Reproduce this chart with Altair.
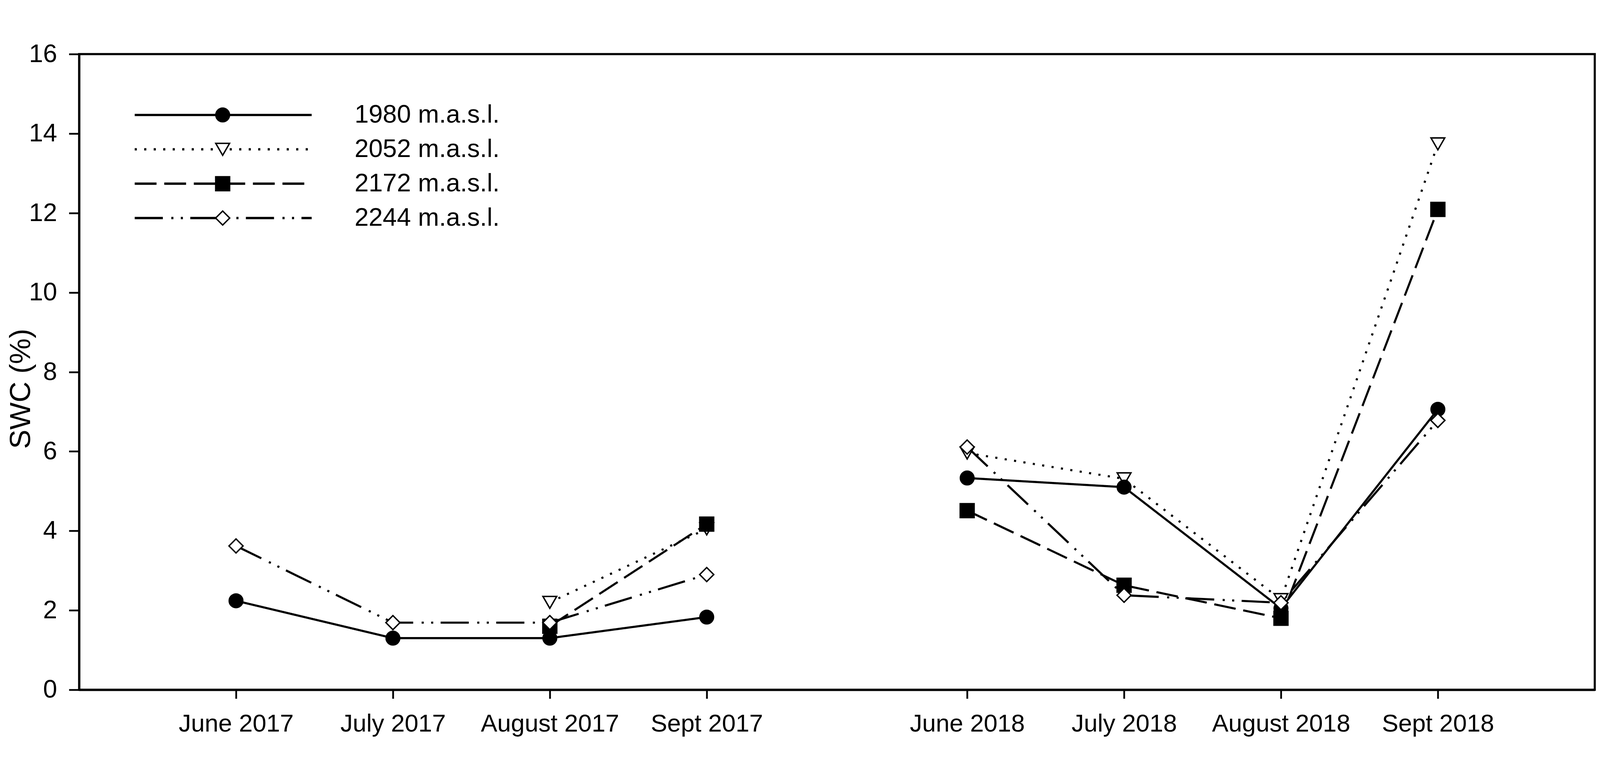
import altair as alt
import pandas as pd

# ---- data ----
months = ["June 2017", "July 2017", "August 2017", "Sept 2017",
          "June 2018", "July 2018", "August 2018", "Sept 2018"]
month_pos = [1, 2, 3, 4, 5.66, 6.66, 7.66, 8.66]
season = [2017, 2017, 2017, 2017, 2018, 2018, 2018, 2018]

series = ["1980 m.a.s.l.", "2052 m.a.s.l.", "2172 m.a.s.l.", "2244 m.a.s.l."]
swc_1980 = [2.24, 1.30, 1.30, 1.83, 5.33, 5.10, 2.05, 7.06]
swc_2052 = [None, None, 2.20, 4.05, 5.96, 5.31, 2.27, 13.74]
swc_2172 = [None, None, 1.60, 4.17, 4.51, 2.63, 1.80, 12.09]
swc_2244 = [3.62, 1.69, 1.69, 2.90, 6.11, 2.38, 2.19, 6.78]

values_by_series = {
    series[0]: swc_1980,
    series[1]: swc_2052,
    series[2]: swc_2172,
    series[3]: swc_2244,
}

# ---- styles ----
shapes = ["circle", "triangle-down", "square", "diamond"]
fills = ["black", "white", "black", "white"]
sizes = [1500, 1600, 1350, 2050]
dashes = [[1, 0], [6, 21], [62, 22], [80, 24, 6, 21, 6, 21]]
FONT = "Liberation Sans"

# draw order for markers (later = on top)
draw_order = [series[1], series[0], series[2], series[3]]

rows = []
for s in draw_order:
    for m, p, yr, v in zip(months, month_pos, season, values_by_series[s]):
        if v is not None:
            rows.append({"series": s, "month": m, "pos": p, "season": yr, "swc": v})
df = pd.DataFrame(rows)
legend_df = pd.DataFrame({"series": series})

x_enc = alt.X(
    "pos:Q",
    scale=alt.Scale(domain=[0, 9.66], nice=False, zero=False),
    axis=alt.Axis(
        values=month_pos,
        labelExpr=" : ".join(f"datum.value == {p} ? '{m}'" for p, m in zip(month_pos, months)) + " : ''",
        title=None, grid=False, tickSize=25, tickWidth=5, domainWidth=6,
        labelPadding=38, labelFontSize=70, labelFont=FONT, labelColor="black",
        tickColor="black", domainColor="black", labelAngle=0, labelLimit=0,
        labelOverlap=False,
    ),
)
y_enc = alt.Y(
    "swc:Q",
    scale=alt.Scale(domain=[0, 16], nice=False),
    axis=alt.Axis(
        values=list(range(0, 17, 2)), title="SWC (%)", grid=False,
        tickSize=29, tickWidth=5, domainWidth=6, labelPadding=34,
        labelFontSize=72, labelFont=FONT, labelColor="black",
        tickColor="black", domainColor="black", labelLimit=0,
        titleFont=FONT, titleFontSize=82, titleFontWeight="normal", titleColor="black",
        titleAngle=270, titleX=-165, titleY=951, titleAlign="center", titleBaseline="middle",
    ),
)

dash_enc = alt.StrokeDash("series:N", scale=alt.Scale(domain=series, range=dashes), legend=None)
shape_enc = alt.Shape("series:N", scale=alt.Scale(domain=series, range=shapes), legend=None)
fill_enc = alt.Fill("series:N", scale=alt.Scale(domain=series, range=fills), legend=None)
size_enc = alt.Size("series:N", scale=alt.Scale(domain=series, range=sizes), legend=None)

lines = alt.Chart(df).mark_line(color="black", strokeWidth=6, strokeCap="butt").encode(
    x=x_enc, y=y_enc, strokeDash=dash_enc, detail="season:N",
    order="pos:Q",
)
points = alt.Chart(df).mark_point(stroke="black", strokeWidth=4, opacity=1, filled=False).encode(
    x=x_enc, y=y_enc, shape=shape_enc, fill=fill_enc, size=size_enc,
)
main = alt.layer(lines, points)

leg_y = alt.Y("series:N", scale=alt.Scale(type="point", domain=series, range=[173, 466], padding=0), axis=None)
leg_rule = alt.Chart(legend_df).mark_rule(color="black", strokeWidth=6.5, strokeCap="butt").encode(
    x=alt.value(158), x2=alt.value(661), y=leg_y, strokeDash=dash_enc,
)
leg_pts = alt.Chart(legend_df).mark_point(stroke="black", strokeWidth=4, opacity=1, filled=False).encode(
    x=alt.value(408), y=leg_y, shape=shape_enc, fill=fill_enc, size=size_enc,
)
leg_text = alt.Chart(legend_df).mark_text(
    align="left", baseline="middle", font=FONT, fontSize=72, color="black"
).encode(x=alt.value(783), y=leg_y, text="series:N")
legend = alt.layer(leg_rule, leg_pts, leg_text)

chart = (
    alt.layer(main, legend)
    .resolve_scale(y="independent")
    .properties(
        width=4530, height=1975,
        autosize=alt.AutoSizeParams(type="fit", contains="padding"),
        padding={"left": 10, "top": 0, "right": 6, "bottom": 0},
        background="white",
    )
    .configure_view(stroke="black", strokeWidth=6)
)

chart.save("out.html", embed_options={"renderer": "svg", "actions": False})
